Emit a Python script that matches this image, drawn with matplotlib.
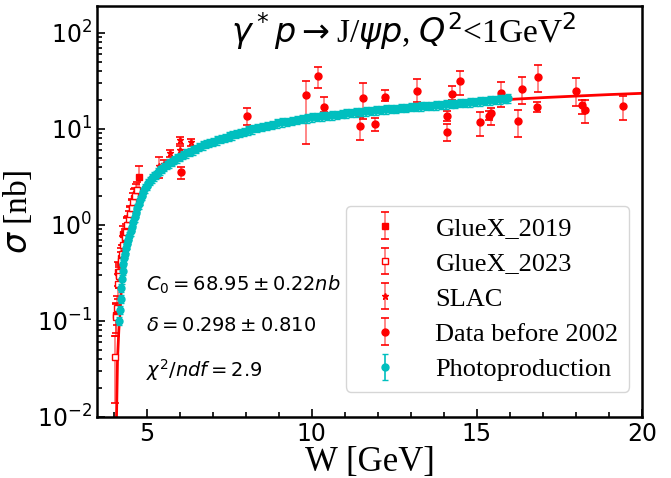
import numpy as np
import matplotlib
matplotlib.use('Agg')
import matplotlib.pyplot as plt
from matplotlib.pyplot import MultipleLocator

plt.rcParams['font.family'] = ['Liberation Serif', 'DejaVu Sans']
plt.rcParams['mathtext.fontset'] = 'dejavusans'

# GlueX 2019 (filled squares)
w_gx19 = [4.06, 4.12, 4.18, 4.23, 4.29, 4.34, 4.40, 4.45, 4.51, 4.57, 4.63, 4.68, 4.76]
s_gx19 = [0.115, 0.32, 0.30, 0.45, 0.80, 0.70, 0.95, 1.00, 1.25, 1.50, 1.90, 2.10, 3.15]
e_gx19 = [0.04, 0.09, 0.08, 0.12, 0.18, 0.17, 0.22, 0.25, 0.30, 0.35, 0.45, 0.55, 1.0]

# GlueX 2023 (open squares)
w_gx23 = [4.05, 4.08, 4.10, 4.12, 4.15, 4.18, 4.22, 4.26, 4.30, 4.34, 4.38, 4.42,
          4.46, 4.50, 4.55, 4.60, 4.65, 4.70]
s_gx23 = [0.042, 0.11, 0.135, 0.24, 0.32, 0.29, 0.42, 0.50, 0.62, 0.75, 0.85, 1.00,
          1.15, 1.30, 1.50, 1.75, 2.00, 2.30]
e_gx23 = [0.028, 0.04, 0.045, 0.07, 0.08, 0.07, 0.10, 0.12, 0.14, 0.16, 0.18, 0.22,
          0.25, 0.28, 0.32, 0.38, 0.42, 0.50]

# SLAC (stars)
w_slac = [5.39, 5.54, 5.72, 6.02, 6.02, 6.35]
s_slac = [4.1, 4.3, 5.6, 6.0, 7.6, 7.3]
e_slac = [1.0, 0.4, 0.5, 0.6, 0.6, 0.6]

# data before 2002 (circles), asymmetric errors
w_old = [6.04, 8.04, 9.82, 10.20, 10.38, 11.47, 11.56, 11.90, 12.22, 13.19, 14.08, 14.08,
         14.25, 14.50, 15.10, 15.36, 15.42, 15.72, 16.25, 16.37, 16.84, 16.81, 17.99,
         18.17, 18.26, 19.41]
s_old = [3.55, 13.8, 22.4, 35.3, 17.1, 10.6, 21.0, 11.3, 21.5, 25.1, 13.5, 9.4,
         23.3, 31.6, 11.8, 13.8, 14.5, 23.9, 12.1, 26.3, 35.0, 17.1, 25.0,
         17.6, 15.8, 17.2]
elo_old = [0.55, 2.7, 15.4, 8.6, 2.2, 2.9, 8.3, 1.7, 2.0, 6.1, 1.4, 2.0,
           3.5, 8.8, 3.3, 1.5, 3.5, 6.8, 3.9, 7.9, 11.0, 2.0, 7.6,
           3.2, 4.2, 4.7]
ehi_old = [0.45, 2.8, 8.9, 8.4, 4.3, 2.6, 8.9, 1.6, 4.2, 8.1, 2.0, 1.9,
           4.5, 8.2, 3.1, 1.7, 2.0, 6.7, 3.7, 8.2, 11.2, 1.9, 9.0,
           2.6, 4.0, 5.1]

# photoproduction (cyan band)
w_ph = [4.18, 4.20, 4.22, 4.24, 4.26, 4.28, 4.30, 4.33, 4.36, 4.39, 4.42, 4.45, 4.48,
        4.52, 4.56, 4.60, 4.64, 4.68, 4.72, 4.76, 4.80, 4.85, 4.90, 4.95, 5.00, 5.05,
        5.10, 5.16, 5.22, 5.28, 5.34, 5.40, 5.47, 5.54, 5.61, 5.68, 5.76, 5.84, 5.92,
        6.00, 6.10, 6.20, 6.30, 6.40, 6.50, 6.60, 6.70, 6.80, 6.90, 7.00, 7.12, 7.24,
        7.36, 7.48, 7.60, 7.72, 7.84, 7.96, 8.08, 8.20, 8.35, 8.50, 8.65, 8.80, 8.95,
        9.10, 9.25, 9.40, 9.55, 9.70, 9.85, 10.00, 10.15, 10.30, 10.45, 10.60, 10.75,
        10.90, 11.05, 11.20, 11.35, 11.50, 11.65, 11.80, 11.95, 12.10, 12.25, 12.40,
        12.55, 12.70, 12.85, 13.00, 13.15, 13.30, 13.45, 13.60, 13.75, 13.90, 14.05,
        14.20, 14.35, 14.50, 14.65, 14.80, 14.95, 15.10, 15.25, 15.40, 15.55, 15.70,
        15.85, 15.95]
s_ph = [0.10, 0.13, 0.17, 0.22, 0.27, 0.33, 0.39, 0.45, 0.50, 0.57, 0.63, 0.70, 0.77,
        0.86, 0.96, 1.08, 1.20, 1.33, 1.50, 1.64, 1.80, 2.00, 2.20, 2.40, 2.55, 2.75,
        2.90, 3.05, 3.20, 3.35, 3.55, 3.70, 3.85, 4.05, 4.20, 4.40, 4.55, 4.75, 4.95,
        5.10, 5.35, 5.55, 5.80, 6.00, 6.25, 6.50, 6.75, 6.95, 7.15, 7.35, 7.60, 7.85,
        8.10, 8.35, 8.60, 8.85, 9.10, 9.40, 9.70, 9.90, 10.2, 10.5, 10.8, 11.1, 11.4,
        11.7, 11.9, 12.2, 12.4, 12.7, 12.9, 13.2, 13.3, 13.5, 13.7, 13.9, 14.1,
        14.3, 14.5, 14.7, 14.9, 15.1, 15.3, 15.5, 15.7, 15.8, 16.0, 16.2,
        16.3, 16.5, 16.7, 16.9, 17.0, 17.2, 17.4, 17.5, 17.7, 17.9, 18.0,
        18.2, 18.4, 18.6, 18.8, 19.0, 19.2, 19.4, 19.6, 19.8, 20.0, 20.3,
        20.6, 20.9]
e_ph_frac = 0.10

# fit curve
w_fit = [4.09, 4.12, 4.16, 4.20, 4.25, 4.30, 4.40, 4.50, 4.60, 4.75, 4.90, 5.10, 5.40,
         5.70, 6.10, 6.60, 7.00, 8.00, 9.00, 10.0, 11.0, 12.0, 13.0, 14.0, 15.0, 16.0,
         17.0, 18.0, 19.0, 20.0]
s_fit = [0.01, 0.04, 0.08, 0.13, 0.26, 0.40, 0.59, 0.80, 1.10, 1.65, 2.30, 2.90, 3.70,
         4.50, 5.50, 6.70, 7.30, 9.80, 11.7, 13.3, 14.6, 15.8, 16.9, 17.9, 19.0, 20.3,
         21.2, 22.0, 22.8, 23.5]

fig = plt.figure(figsize=(6.71, 4.78), dpi=100)
ax = fig.add_axes([0.1446, 0.128, 0.8124, 0.859])

ax.plot(w_fit, s_fit, color='red', lw=2, zorder=1)

def eb(x, y, err, **kw):
    r = ax.errorbar(x, y, yerr=err, ls='none', capsize=3, elinewidth=1.2,
                    capthick=1.2, **kw)
    for c in r[2]:
        c.set_alpha(0.55)
    return r

h1 = eb(w_gx19, s_gx19, e_gx19, marker='s', ms=5, color='red', label='GlueX_2019', zorder=3)
h2 = eb(w_gx23, s_gx23, e_gx23, marker='s', ms=5, color='red', mfc='white',
        label='GlueX_2023', zorder=3)
h3 = eb(w_slac, s_slac, e_slac, marker='*', ms=5, color='red', label='SLAC', zorder=3)
h4 = eb(w_old, s_old, [elo_old, ehi_old], marker='o', ms=5, color='red',
        label='Data before 2002', zorder=3)
e_ph = [s * e_ph_frac for s in s_ph]
h5 = ax.errorbar(w_ph, s_ph, yerr=e_ph, ls='none', marker='o', ms=5, color='c',
                 ecolor='c', capsize=2.5, elinewidth=1.2, label='Photoproduction', zorder=4)

ax.set_yscale('log')
ax.set_xlim(3.5, 20)
ax.set_ylim(0.01, 190)
ax.xaxis.set_major_locator(MultipleLocator(5))
ax.xaxis.set_minor_locator(MultipleLocator(1))
ax.tick_params(which='both', direction='in', labelsize=17, width=1.2)
ax.tick_params(which='major', length=6)
ax.tick_params(which='minor', length=3.5)
for lab in ax.get_xticklabels() + ax.get_yticklabels():
    lab.set_family('DejaVu Sans')
for sp in ax.spines.values():
    sp.set_linewidth(1.8)

ax.set_xlabel('W [GeV]', fontsize=25, labelpad=0)
ax.set_ylabel(r'$\sigma$ [nb]', fontsize=24, labelpad=2)

ax.text(0.245, 0.99, r'$\gamma^*p\rightarrow$J/$\psi p$, $Q^2$<1GeV$^2$',
        transform=ax.transAxes, fontsize=24, ha='left', va='top')
ax.text(0.09, 0.321, r'$C_0 = 68.95 \pm 0.22 nb$', transform=ax.transAxes,
        fontsize=14, va='center')
ax.text(0.09, 0.221, r'$\delta = 0.298 \pm 0.810$', transform=ax.transAxes,
        fontsize=14, va='center')
ax.text(0.09, 0.114, r'$\chi^2/ndf = 2.9$', transform=ax.transAxes,
        fontsize=14, va='center')

ax.legend(handles=[h1, h2, h3, h4, h5], loc='lower right', fontsize=19,
          bbox_to_anchor=(0.976, 0.061), borderaxespad=0, handlelength=2.2,
          labelspacing=0.45)

plt.savefig('out.png', dpi=100)
